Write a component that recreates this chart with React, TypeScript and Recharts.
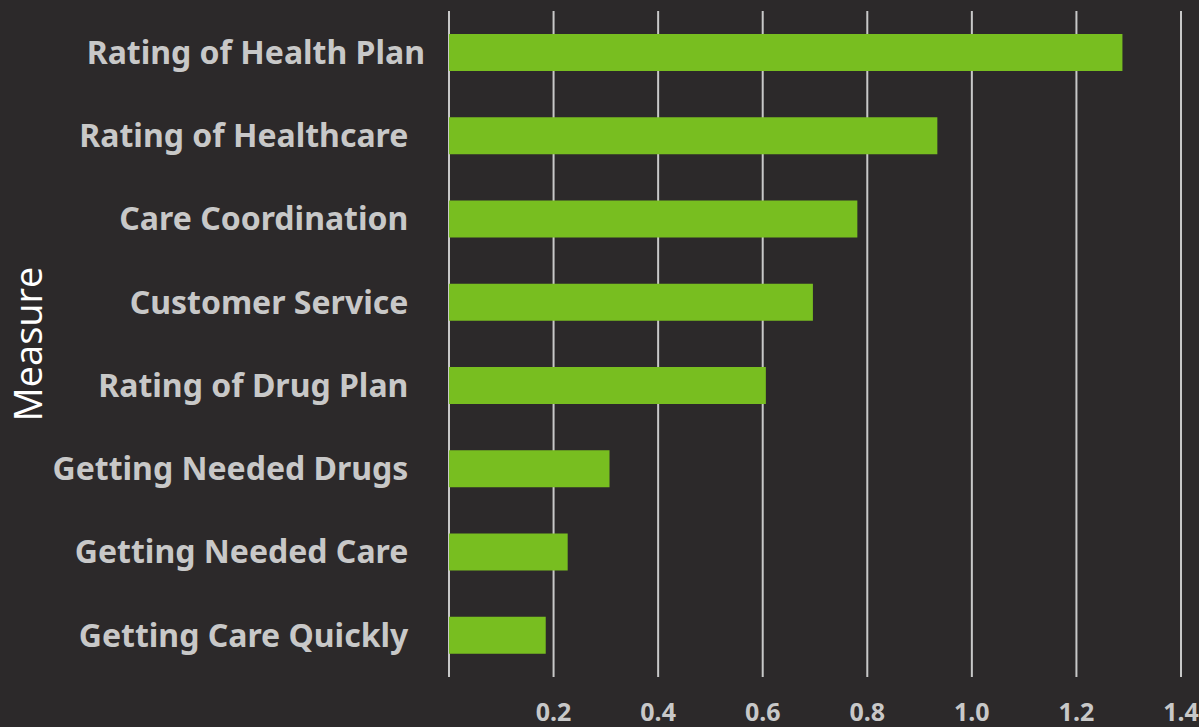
import React from 'react';
import { BarChart, Bar, XAxis, YAxis, CartesianGrid } from 'recharts';

const categories = [
  'Rating of Health Plan',
  'Rating of Healthcare\u00a0\u00a0',
  'Care Coordination\u00a0\u00a0',
  'Customer Service\u00a0\u00a0',
  'Rating of Drug Plan\u00a0\u00a0',
  'Getting Needed Drugs\u00a0\u00a0',
  'Getting Needed Care\u00a0\u00a0',
  'Getting Care Quickly\u00a0\u00a0',
];
const values = [1.288, 0.934, 0.781, 0.696, 0.606, 0.307, 0.227, 0.185];
const xTicks = [0, 0.2, 0.4, 0.6, 0.8, 1.0, 1.2, 1.4];
const axisTitle = 'Measure';

const data = categories.map((c, i) => ({ measure: c, value: values[i] }));

const BG = '#2c292a';
const GREEN = '#78be20';
const GREY = '#c8c8c8';

export default function App() {
  return (
    <div style={{ position: 'absolute', left: 0, top: 0, width: 1199, height: 727, background: BG, overflow: 'hidden' }}>
      <BarChart
        width={1199}
        height={727}
        data={data}
        layout="vertical"
        margin={{ top: 11, right: 18, bottom: 20, left: 0 }}
      >
        <CartesianGrid horizontal={false} vertical stroke={GREY} strokeWidth={2} />
        <XAxis
          type="number"
          domain={[0, 1.4]}
          ticks={xTicks}
          interval={0}
          height={30}
          axisLine={false}
          tickLine={false}
          tickMargin={20}
          tickFormatter={(v: number) => (v === 0 ? '' : v.toFixed(1))}
          tick={{ fill: GREY, fontSize: 25, fontWeight: 700, fontFamily: 'Noto Sans' }}
        />
        <YAxis
          type="category"
          dataKey="measure"
          width={449}
          axisLine={false}
          tickLine={false}
          tickMargin={18}
          interval={0}
          tick={{ fill: GREY, fontSize: 32, fontWeight: 700, fontFamily: 'Noto Sans' }}
          label={{
            value: axisTitle,
            angle: -90,
            position: 'insideLeft',
            offset: 29,
            style: { textAnchor: 'middle', fill: '#ffffff', fontSize: 38, fontFamily: 'Open Sans' },
          }}
        />
        <Bar dataKey="value" fill={GREEN} barSize={37} isAnimationActive={false} />
      </BarChart>
    </div>
  );
}
